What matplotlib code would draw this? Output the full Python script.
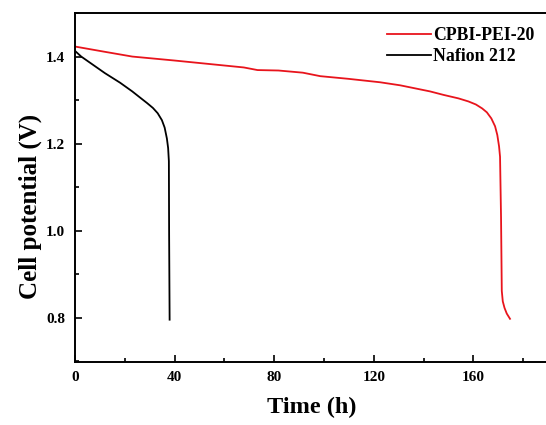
import matplotlib
matplotlib.use("Agg")
import matplotlib.pyplot as plt
from matplotlib.ticker import MultipleLocator

# ── Data ─────────────────────────────────────────────────────────────────────
cpbi_time = [0, 11.9, 23, 39.8, 53.8, 67.8, 73.3, 81.7, 91.5, 98.5, 109.6, 122.5,
             130.6, 142.6, 148, 154, 158, 161, 163.5, 165.4, 167.2, 168.7, 169.6,
             170.3, 170.7, 171.1, 171.4, 171.8, 172.5, 173.4, 174.7]
cpbi_volt = [1.423, 1.411, 1.400, 1.391, 1.383, 1.375, 1.369, 1.368, 1.363, 1.355,
             1.349, 1.341, 1.334, 1.320, 1.312, 1.304, 1.297, 1.290, 1.281, 1.272,
             1.258, 1.240, 1.220, 1.194, 1.170, 1.031, 0.862, 0.838, 0.823, 0.810,
             0.798]

nafion_time = [0, 2.5, 6.0, 12.0, 18.1, 23.0, 26.1, 29.0, 31.3, 33.2, 34.9, 36.0,
               36.9, 37.4, 37.7, 37.8, 38.0]
nafion_volt = [1.413, 1.400, 1.386, 1.362, 1.340, 1.320, 1.306, 1.293, 1.282, 1.270,
               1.254, 1.237, 1.212, 1.190, 1.160, 0.99, 0.796]

labels = ["CPBI-PEI-20", "Nafion 212"]

plt.rcParams["font.family"] = "Liberation Serif"
plt.rcParams["font.weight"] = "bold"

fig = plt.figure(figsize=(5.46, 4.25), dpi=100)
ax = fig.add_axes([75 / 546, 1 - 361.5 / 425, 498 / 546, 348.5 / 425])

ax.plot(cpbi_time, cpbi_volt, color="#e8141c", lw=1.3, label=labels[0])
ax.plot(nafion_time, nafion_volt, color="black", lw=1.3, label=labels[1])

ax.set_xlim(0, 200)
ax.set_ylim(0.7, 1.5)
ax.xaxis.set_minor_locator(MultipleLocator(20))
ax.yaxis.set_minor_locator(MultipleLocator(0.1))
ax.set_xticks([0, 40, 80, 120, 160])
ax.set_yticks([0.8, 1.0, 1.2, 1.4])
ax.set_yticklabels(["0.8", "1.0", "1.2", "1.4"])

ax.tick_params(which="both", direction="in", width=1.2, labelsize=11)
ax.tick_params(which="major", length=5, pad=7)
ax.tick_params(which="minor", length=3)
for s in ax.spines.values():
    s.set_linewidth(1.4)
ax.spines["right"].set_visible(False)

ax.set_xlabel("Time (h)", fontsize=17.5, fontweight="bold", labelpad=9)
ax.set_ylabel("Cell potential (V)", fontsize=18, fontweight="bold", labelpad=3)
ax.xaxis.label.set_x(0.475)
ax.yaxis.label.set_y(0.446)

leg = ax.legend(loc="upper left", bbox_to_anchor=(0.594, 1.005), frameon=False,
                fontsize=12.8, handlelength=2.5, handletextpad=0.1,
                labelspacing=0.2)

fig.savefig("out.png", dpi=100)
